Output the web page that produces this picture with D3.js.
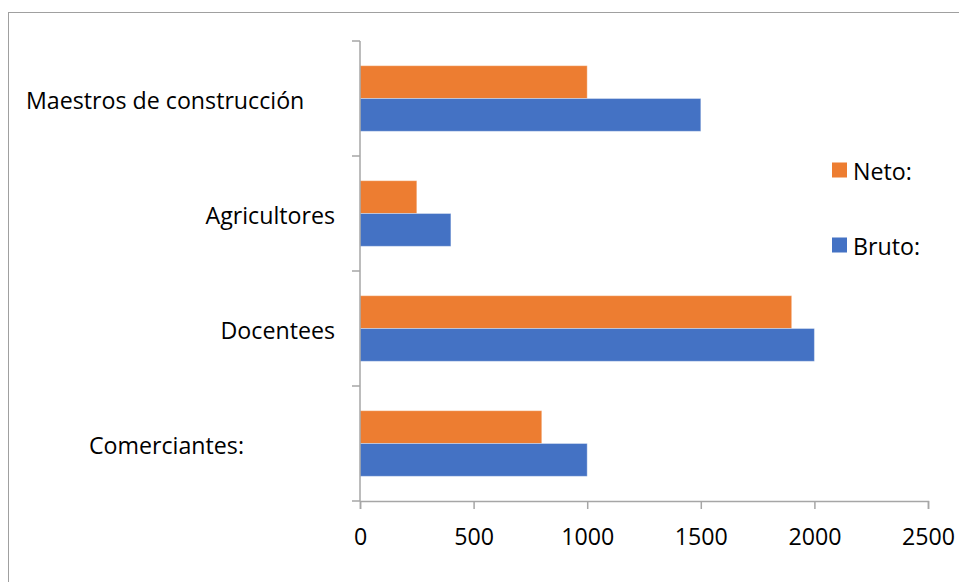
<!DOCTYPE html>
<html><head><meta charset="utf-8">
<script src="https://cdn.jsdelivr.net/npm/d3@7"></script>
<style>
html,body{margin:0;padding:0;background:#fff;}
svg{display:block;}
text{font-family:"Open Sans","Noto Sans",sans-serif;fill:#000;}
</style></head>
<body>
<svg id="chart" width="959" height="582"></svg>
<script>
const categories = ["Maestros de construcción", "Agricultores", "Docentees", "Comerciantes:"];
const seriesNames = ["Neto:", "Bruto:"];
const netoValues = [1000, 250, 1900, 800];
const brutoValues = [1500, 400, 2000, 1000];
const xTicks = [0, 500, 1000, 1500, 2000, 2500];
const colors = ["#ED7D31", "#4472C4"];

const FS = "23.2px";
const svg = d3.select("#chart");
svg.append("rect").attr("x", 8.5).attr("y", 12.5).attr("width", 960).attr("height", 580)
  .attr("fill", "none").attr("stroke", "#a0a0a0").attr("stroke-width", 1);

const plot = {left: 360, right: 928, top: 41, bottom: 501};
const x = d3.scaleLinear().domain([0, 2500]).range([plot.left, plot.right]);
const y0 = d3.scaleBand().domain(categories).range([plot.top, plot.bottom]).paddingInner(0).paddingOuter(0);
const y1 = d3.scaleBand().domain(seriesNames).range([0, y0.bandwidth()]).paddingInner(0).paddingOuter(0.753);

const data = categories.map((c, i) => ({cat: c, vals: [netoValues[i], brutoValues[i]]}));

const g = svg.append("g");
const groups = g.selectAll("g.cat").data(data).join("g")
  .attr("transform", d => `translate(0,${y0(d.cat)})`);
groups.selectAll("rect").data(d => d.vals.map((v, j) => ({s: seriesNames[j], v, j}))).join("rect")
  .attr("x", x(0))
  .attr("y", d => y1(d.s))
  .attr("width", d => x(d.v) - x(0))
  .attr("height", y1.bandwidth())
  .attr("fill", d => colors[d.j])
  .attr("stroke", "rgba(255,255,255,0.35)")
  .attr("stroke-width", 1);

const axisColor = "#a6a6a6";
g.append("line").attr("x1", plot.left).attr("x2", plot.left).attr("y1", plot.top).attr("y2", plot.bottom)
  .attr("stroke", axisColor).attr("stroke-width", 1.5);
const bounds = categories.map(c => y0(c)).concat([plot.bottom]);
g.selectAll("line.yt").data(bounds).join("line")
  .attr("x1", plot.left - 8).attr("x2", plot.left).attr("y1", d => d).attr("y2", d => d)
  .attr("stroke", axisColor).attr("stroke-width", 1.5);

const xAxis = d3.axisBottom(x).tickValues(xTicks).tickSize(8).tickPadding(20).tickFormat(d3.format("d"));
const xg = svg.append("g").attr("transform", `translate(0,${plot.bottom})`).call(xAxis);
xg.select(".domain").attr("stroke", axisColor).attr("stroke-width", 1.5);
xg.selectAll(".tick line").attr("stroke", axisColor).attr("stroke-width", 1.5);
xg.selectAll(".tick text").style("font-size", FS).style("font-family", "'Open Sans','Noto Sans',sans-serif").attr("fill", "#000");

const labelLayout = [{x: 26, anchor: "start"}, {x: 335, anchor: "end"}, {x: 335, anchor: "end"}, {x: 244, anchor: "end"}];
svg.selectAll("text.cat").data(categories).join("text")
  .attr("class", "cat")
  .attr("x", (d, i) => labelLayout[i].x)
  .attr("y", d => y0(d) + y0.bandwidth() / 2 + 1)
  .attr("text-anchor", (d, i) => labelLayout[i].anchor)
  .attr("dominant-baseline", "central")
  .style("font-size", FS)
  .text(d => d);

const legendY = [170, 245];
const leg = svg.selectAll("g.leg").data(seriesNames).join("g")
  .attr("transform", (d, i) => `translate(832,${legendY[i]})`);
leg.append("rect").attr("x", 0).attr("y", -7.5).attr("width", 15).attr("height", 15).attr("fill", (d, i) => colors[i]);
leg.append("text").attr("x", 21).attr("y", 1).attr("dominant-baseline", "central").style("font-size", FS).text(d => d);
</script>
</body></html>
